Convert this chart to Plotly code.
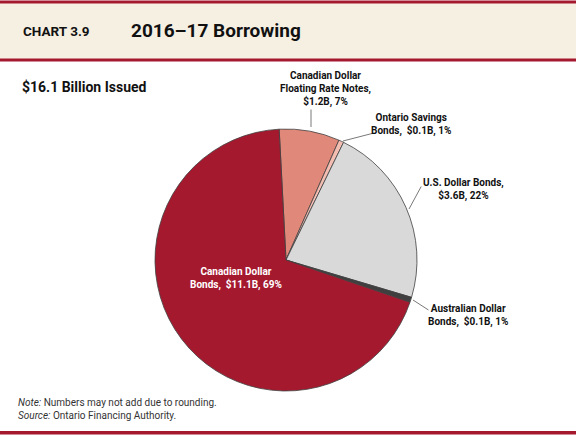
import plotly.graph_objects as go

# 2016-17 borrowing by instrument ($ billions)
labels = ['Canadian Dollar Floating Rate Notes', 'Ontario Savings Bonds',
          'U.S. Dollar Bonds', 'Australian Dollar Bonds', 'Canadian Dollar Bonds']
values = [1.2, 0.1, 3.6, 0.1, 11.1]
colors = ['#E0887A', '#F4BDB2', '#D9D9D9', '#3F3F3F', '#A5192F']
label_text = ['Canadian Dollar<br>Floating Rate Notes,<br>$1.2B, 7%',
              'Ontario Savings<br>Bonds,  $0.1B, 1%',
              'U.S. Dollar Bonds,<br>$3.6B, 22%',
              'Australian Dollar<br>Bonds,  $0.1B, 1%',
              'Canadian Dollar<br>Bonds,  $11.1B, 69%']

RED = '#A5192F'
BEIGE = '#F6F0E3'
W, H = 576, 436
FONT = 'Roboto, Liberation Sans, Arial'

def px(x):
    return x / W

def py(y):
    return 1 - y / H

def leader(x0, y0, x1, y1):
    # plain line from slice edge (x0, y0) to label (x1, y1), pixels
    return dict(x=px(x0), y=py(y0), ax=x1 - x0, ay=y1 - y0, axref='pixel', ayref='pixel',
                text='', showarrow=True, arrowhead=0, arrowwidth=0.8, arrowcolor='#555555')

fig = go.Figure()
fig.add_trace(go.Pie(labels=labels, values=values, sort=False, direction='clockwise',
                     rotation=-3, textinfo='none', hoverinfo='label+value+percent',
                     marker=dict(colors=colors, line=dict(color='#404040', width=0.8)),
                     domain=dict(x=[px(155), px(417)], y=[py(391), py(129)]),
                     showlegend=False))

# header band and rules
shapes = [
    dict(type='rect', xref='paper', yref='paper', x0=0, x1=1, y0=py(59), y1=py(3),
         fillcolor=BEIGE, line_width=0, layer='below'),
    dict(type='rect', xref='paper', yref='paper', x0=0, x1=1, y0=py(3.5), y1=py(0.5),
         fillcolor=RED, line_width=0),
    dict(type='rect', xref='paper', yref='paper', x0=0, x1=1, y0=py(61.5), y1=py(58.5),
         fillcolor=RED, line_width=0),
    dict(type='rect', xref='paper', yref='paper', x0=0, x1=1, y0=py(434.5), y1=py(431),
         fillcolor=RED, line_width=0),
]

lab = dict(size=10, color='#111111', family=FONT)
annotations = [
    dict(x=px(21), y=py(31), text='<b>CHART 3.9</b>', xanchor='left', yanchor='middle',
         font=dict(size=13.5, color='#111111', family=FONT), showarrow=False),
    dict(x=px(129), y=py(30), text='<b>2016\u201317 Borrowing</b>', xanchor='left', yanchor='middle',
         font=dict(size=19, color='#111111', family=FONT), showarrow=False),
    dict(x=px(20), y=py(87), text='<b>$16.1 Billion Issued</b>', xanchor='left', yanchor='middle',
         font=dict(size=14, color='#111111', family=FONT), showarrow=False),
    dict(x=px(16), y=py(409), text='<i>Note:</i> Numbers may not add due to rounding.<br>'
         '<i>Source:</i> Ontario Financing Authority.', xanchor='left', yanchor='middle', align='left',
         font=dict(size=10, color='#333333', family=FONT), showarrow=False),
    # slice labels
    leader(311, 127, 311, 108),
    dict(x=px(325), y=py(89), text='<b>' + label_text[0] + '</b>', xanchor='center', yanchor='middle',
         font=lab, showarrow=False),
    leader(343, 141, 374, 133),
    dict(x=px(411), y=py(124), text='<b>' + label_text[1] + '</b>', xanchor='center', yanchor='middle',
         font=lab, showarrow=False),
    leader(409, 209, 422, 185),
    dict(x=px(463), y=py(189), text='<b>' + label_text[2] + '</b>', xanchor='center', yanchor='middle',
         font=lab, showarrow=False),
    leader(413, 300, 430, 311),
    dict(x=px(468), y=py(315), text='<b>' + label_text[3] + '</b>', xanchor='center', yanchor='middle',
         font=lab, showarrow=False),
    dict(x=px(236), y=py(278), text='<b>' + label_text[4] + '</b>', xanchor='center', yanchor='middle',
         font=dict(size=10, color='white', family=FONT), showarrow=False),
]

fig.update_layout(width=W, height=H, margin=dict(l=0, r=0, t=0, b=0),
                  paper_bgcolor='white', plot_bgcolor='white',
                  shapes=shapes, annotations=annotations)

fig.write_html("out.html", config={'displayModeBar': False},
               post_script="document.body.style.margin='0';")
